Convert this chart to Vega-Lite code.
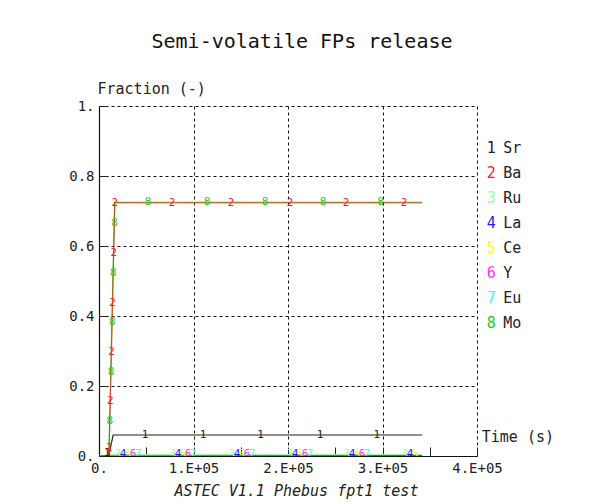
{
  "$schema": "https://vega.github.io/schema/vega-lite/v6.json",
  "width": 378,
  "height": 350,
  "autosize": {"type": "none"},
  "padding": {"left": 99, "top": 106, "right": 113, "bottom": 48},
  "background": "white",
  "config": {
    "view": {"stroke": null},
    "font": "DejaVu Sans Mono"
  },
  "title": {
    "text": "Semi-volatile FPs release",
    "font": "DejaVu Sans Mono",
    "fontSize": 20,
    "fontWeight": "normal",
    "color": "#111",
    "anchor": "middle",
    "dx": 14,
    "offset": 29
  },
  "datasets": {
    "series": [
      {"el": "Eu", "t": 0, "v": 0}, {"el": "Eu", "t": 342000, "v": 0.0005},
      {"el": "Y", "t": 0, "v": 0}, {"el": "Y", "t": 342000, "v": 0.001},
      {"el": "Ce", "t": 0, "v": 0}, {"el": "Ce", "t": 342000, "v": 0.001},
      {"el": "La", "t": 0, "v": 0}, {"el": "La", "t": 342000, "v": 0.001},
      {"el": "Ru", "t": 0, "v": 0}, {"el": "Ru", "t": 12000, "v": 0.004}, {"el": "Ru", "t": 342000, "v": 0.004},
      {"el": "Sr", "t": 0, "v": 0}, {"el": "Sr", "t": 10500, "v": 0}, {"el": "Sr", "t": 12500, "v": 0.03}, {"el": "Sr", "t": 15000, "v": 0.06}, {"el": "Sr", "t": 342000, "v": 0.06},
      {"el": "Mo", "t": 0, "v": 0}, {"el": "Mo", "t": 9800, "v": 0}, {"el": "Mo", "t": 10600, "v": 0.02}, {"el": "Mo", "t": 16600, "v": 0.725}, {"el": "Mo", "t": 342000, "v": 0.725}
    ],
    "ba": [
      {"el": "Ba", "t": 0, "v": 0}, {"el": "Ba", "t": 10000, "v": 0}, {"el": "Ba", "t": 10800, "v": 0.02}, {"el": "Ba", "t": 16800, "v": 0.723}, {"el": "Ba", "t": 342000, "v": 0.723}
    ],
    "markers": [
      {"el": "Sr", "n": "1", "t": 8500, "v": 0.01},
      {"el": "Sr", "n": "1", "t": 48700, "v": 0.06},
      {"el": "Sr", "n": "1", "t": 110000, "v": 0.06},
      {"el": "Sr", "n": "1", "t": 171000, "v": 0.06},
      {"el": "Sr", "n": "1", "t": 234000, "v": 0.06},
      {"el": "Sr", "n": "1", "t": 294000, "v": 0.06},
      {"el": "Mo", "n": "8", "t": 11400, "v": 0.1},
      {"el": "Mo", "n": "8", "t": 12700, "v": 0.24},
      {"el": "Mo", "n": "8", "t": 14000, "v": 0.383},
      {"el": "Mo", "n": "8", "t": 15100, "v": 0.523},
      {"el": "Mo", "n": "8", "t": 16400, "v": 0.666},
      {"el": "Mo", "n": "8", "t": 51900, "v": 0.725},
      {"el": "Mo", "n": "8", "t": 114300, "v": 0.725},
      {"el": "Mo", "n": "8", "t": 175700, "v": 0.725},
      {"el": "Mo", "n": "8", "t": 237000, "v": 0.725},
      {"el": "Mo", "n": "8", "t": 298000, "v": 0.725},
      {"el": "Ba", "n": "2", "t": 10800, "v": 0.023},
      {"el": "Ba", "n": "2", "t": 12000, "v": 0.157},
      {"el": "Ba", "n": "2", "t": 13200, "v": 0.297},
      {"el": "Ba", "n": "2", "t": 14400, "v": 0.437},
      {"el": "Ba", "n": "2", "t": 15700, "v": 0.58},
      {"el": "Ba", "n": "2", "t": 16800, "v": 0.723},
      {"el": "Ba", "n": "2", "t": 77200, "v": 0.723},
      {"el": "Ba", "n": "2", "t": 139700, "v": 0.723},
      {"el": "Ba", "n": "2", "t": 202100, "v": 0.723},
      {"el": "Ba", "n": "2", "t": 261400, "v": 0.723},
      {"el": "Ba", "n": "2", "t": 322800, "v": 0.723},
      {"el": "Ru", "n": "3", "t": 20100, "v": 0.006},
      {"el": "La", "n": "4", "t": 25400, "v": 0.006},
      {"el": "Ce", "n": "5", "t": 30700, "v": 0.006},
      {"el": "Y", "n": "6", "t": 36000, "v": 0.006},
      {"el": "Eu", "n": "7", "t": 41300, "v": 0.006},
      {"el": "Ru", "n": "3", "t": 78300, "v": 0.006},
      {"el": "La", "n": "4", "t": 83600, "v": 0.006},
      {"el": "Ce", "n": "5", "t": 88900, "v": 0.006},
      {"el": "Y", "n": "6", "t": 94200, "v": 0.006},
      {"el": "Eu", "n": "7", "t": 99500, "v": 0.006},
      {"el": "Ru", "n": "3", "t": 140700, "v": 0.006},
      {"el": "La", "n": "4", "t": 146000, "v": 0.006},
      {"el": "Ce", "n": "5", "t": 151300, "v": 0.006},
      {"el": "Y", "n": "6", "t": 156600, "v": 0.006},
      {"el": "Eu", "n": "7", "t": 161900, "v": 0.006},
      {"el": "Ru", "n": "3", "t": 202100, "v": 0.006},
      {"el": "La", "n": "4", "t": 207400, "v": 0.006},
      {"el": "Ce", "n": "5", "t": 212700, "v": 0.006},
      {"el": "Y", "n": "6", "t": 218000, "v": 0.006},
      {"el": "Eu", "n": "7", "t": 223300, "v": 0.006},
      {"el": "Ru", "n": "3", "t": 262500, "v": 0.006},
      {"el": "La", "n": "4", "t": 267800, "v": 0.006},
      {"el": "Ce", "n": "5", "t": 273100, "v": 0.006},
      {"el": "Y", "n": "6", "t": 278400, "v": 0.006},
      {"el": "Eu", "n": "7", "t": 283700, "v": 0.006},
      {"el": "Ru", "n": "3", "t": 323800, "v": 0.006},
      {"el": "La", "n": "4", "t": 329100, "v": 0.006},
      {"el": "Ce", "n": "5", "t": 334400, "v": 0.006}
    ],
    "legend": [
      {"el": "Sr", "n": "1"},
      {"el": "Ba", "n": "2"},
      {"el": "Ru", "n": "3"},
      {"el": "La", "n": "4"},
      {"el": "Ce", "n": "5"},
      {"el": "Y", "n": "6"},
      {"el": "Eu", "n": "7"},
      {"el": "Mo", "n": "8"}
    ]
  },
  "layer": [
    {
      "layer": [
        {
          "data": {"name": "series"},
          "mark": {"type": "line", "strokeWidth": 1.2, "clip": true},
          "encoding": {
            "x": {
              "field": "t", "type": "quantitative",
              "scale": {"domain": [0, 400000], "nice": false},
              "axis": {
                "values": [0, 25000, 50000, 75000, 100000, 125000, 150000, 175000, 200000, 225000, 250000, 275000, 300000, 325000, 350000, 375000, 400000],
                "labelExpr": "datum.value % 100000 === 0 ? (datum.value === 0 ? '0.' : (datum.value / 100000) + '.E+05') : ''",
                "labelFont": "DejaVu Sans Mono", "labelFontSize": 14, "labelColor": "#222",
                "labelOverlap": false, "labelFlush": false, "labelPadding": 14, "labelBaseline": "top",
                "tickSize": -9, "tickColor": "#222", "tickWidth": 1,
                "domainColor": "#111", "domainWidth": 1.2,
                "grid": true, "gridColor": "#111", "gridDash": [3, 3], "gridWidth": 1,
                "gridOpacity": {"condition": {"test": "datum.value % 100000 === 0 && datum.value > 0", "value": 1}, "value": 0},
                "title": "ASTEC V1.1 Phebus fpt1 test",
                "titleFont": "DejaVu Sans Mono", "titleFontSize": 15, "titleFontStyle": "italic", "titleFontWeight": "normal", "titleColor": "#222",
                "titleX": 197, "titleY": 39, "titleBaseline": "alphabetic", "titleAlign": "center", "titleAnchor": null
              }
            },
            "y": {
              "field": "v", "type": "quantitative",
              "scale": {"domain": [0, 1], "nice": false},
              "axis": {
                "values": [0, 0.05, 0.1, 0.15, 0.2, 0.25, 0.3, 0.35, 0.4, 0.45, 0.5, 0.55, 0.6, 0.65, 0.7, 0.75, 0.8, 0.85, 0.9, 0.95, 1],
                "labelExpr": "datum.value === 0 ? '0.' : datum.value === 1 ? '1.' : (round(datum.value * 100) % 20 === 0 ? format(datum.value, '.1f') : '')",
                "labelFont": "DejaVu Sans Mono", "labelFontSize": 14, "labelColor": "#222",
                "labelOverlap": false, "labelFlush": false, "labelPadding": 14,
                "tickSize": -9, "tickColor": "#222", "tickWidth": 1,
                "domainColor": "#111", "domainWidth": 1.2,
                "grid": true, "gridColor": "#111", "gridDash": [3, 3], "gridWidth": 1,
                "gridOpacity": {"condition": {"test": "round(datum.value * 100) % 20 === 0 && datum.value > 0", "value": 1}, "value": 0},
                "title": "Fraction (-)",
                "titleFont": "DejaVu Sans Mono", "titleFontSize": 15, "titleFontWeight": "normal", "titleColor": "#222",
                "titleAngle": 0, "titleX": -2, "titleY": -13, "titleAlign": "left", "titleBaseline": "alphabetic", "titleAnchor": null
              }
            },
            "color": {
              "field": "el", "type": "nominal",
              "scale": {
                "domain": ["Sr", "Ba", "Ru", "La", "Ce", "Y", "Eu", "Mo"],
                "range": ["#222222", "#ff1a1a", "#99ff99", "#1a1aff", "#ffff00", "#ff33ff", "#33ffff", "#22cc22"]
              },
              "legend": null
            },
            "detail": {"field": "el"}
          }
        },
        {
          "data": {"name": "ba"},
          "mark": {"type": "line", "strokeWidth": 1.2, "opacity": 0.65, "clip": true},
          "encoding": {
            "x": {"field": "t", "type": "quantitative"},
            "y": {"field": "v", "type": "quantitative"},
            "color": {"field": "el", "type": "nominal"}
          }
        },
        {
          "data": {"name": "markers"},
          "mark": {"type": "text", "fontSize": 11, "font": "DejaVu Sans Mono", "baseline": "middle", "align": "center", "clip": true},
          "encoding": {
            "x": {"field": "t", "type": "quantitative"},
            "y": {"field": "v", "type": "quantitative"},
            "text": {"field": "n"},
            "color": {"field": "el", "type": "nominal"}
          }
        },
        {
          "data": {"values": [{"lab": "Time (s)"}]},
          "mark": {"type": "text", "fontSize": 15, "font": "DejaVu Sans Mono", "align": "left", "baseline": "middle", "color": "#222"},
          "encoding": {
            "x": {"datum": 405000, "type": "quantitative"},
            "y": {"datum": 0.054, "type": "quantitative"},
            "text": {"field": "lab"}
          }
        }
      ]
    },
    {
      "data": {"name": "legend"},
      "layer": [
        {
          "mark": {"type": "text", "fontSize": 15, "font": "DejaVu Sans Mono", "align": "center", "baseline": "middle"},
          "encoding": {
            "x": {"datum": 415000, "type": "quantitative"},
            "y": {"field": "el", "type": "ordinal", "sort": ["Sr", "Ba", "Ru", "La", "Ce", "Y", "Eu", "Mo"], "scale": {"type": "point", "range": [42, 217], "padding": 0}, "axis": null},
            "text": {"field": "n"},
            "color": {"field": "el", "type": "nominal"}
          }
        },
        {
          "mark": {"type": "text", "fontSize": 15, "font": "DejaVu Sans Mono", "align": "left", "baseline": "middle", "dx": 12, "color": "#222"},
          "encoding": {
            "x": {"datum": 415000, "type": "quantitative"},
            "y": {"field": "el", "type": "ordinal", "sort": ["Sr", "Ba", "Ru", "La", "Ce", "Y", "Eu", "Mo"], "scale": {"type": "point", "range": [42, 217], "padding": 0}, "axis": null},
            "text": {"field": "el"}
          }
        }
      ]
    }
  ],
  "resolve": {"scale": {"y": "independent"}}
}
